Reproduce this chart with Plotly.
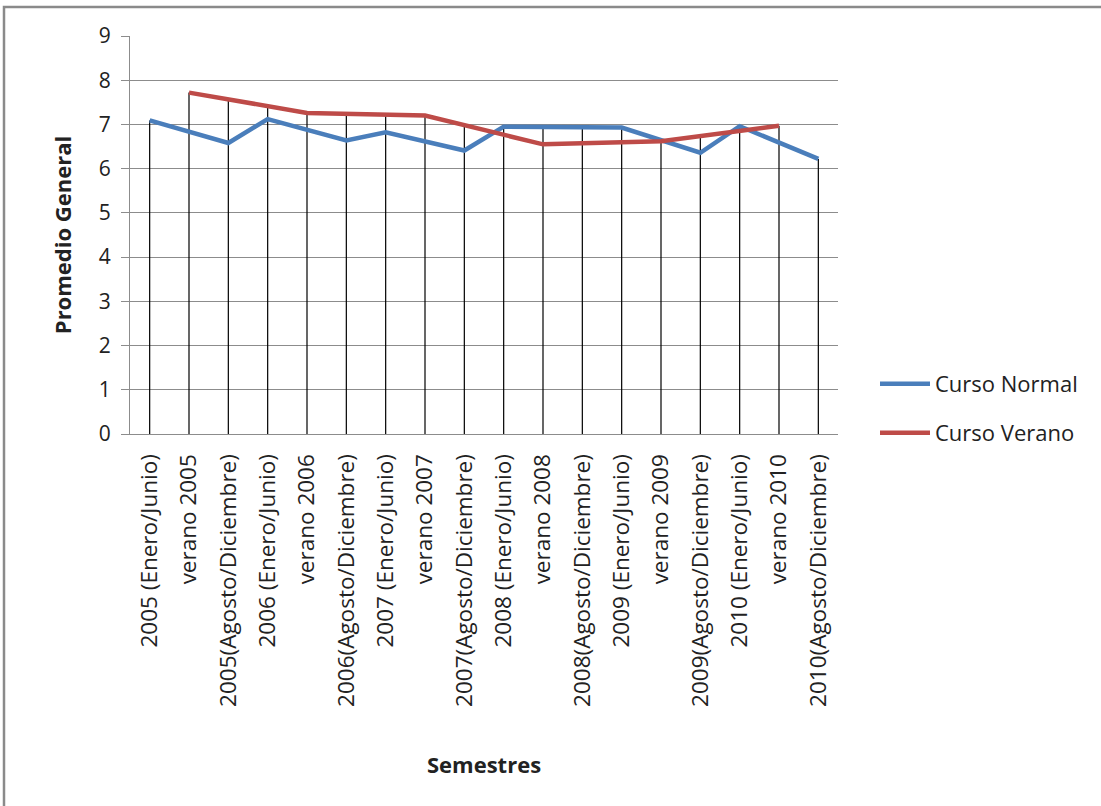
import numpy as np
import plotly.graph_objects as go

# Semesters on the category axis
semestres = [
    "2005 (Enero/Junio)", "verano 2005", "2005(Agosto/Diciembre)",
    "2006 (Enero/Junio)", "verano 2006", "2006(Agosto/Diciembre)",
    "2007 (Enero/Junio)", "verano 2007", "2007(Agosto/Diciembre)",
    "2008 (Enero/Junio)", "verano 2008", "2008(Agosto/Diciembre)",
    "2009 (Enero/Junio)", "verano 2009", "2009(Agosto/Diciembre)",
    "2010 (Enero/Junio)", "verano 2010", "2010(Agosto/Diciembre)",
]

# Regular-course averages (no value in summer slots)
curso_normal = [7.09, None, 6.58, 7.12, None, 6.64, 6.82, None, 6.41,
                6.95, None, 6.95, 6.93, None, 6.36, 6.96, None, 6.22]

# Summer-course averages (only summer slots)
curso_verano = [None, 7.72, None, None, 7.26, None, None, 7.20, None,
                None, 6.55, None, None, 6.62, None, None, 6.97, None]

BLUE = "#4A7EBB"
RED = "#BE4B48"
FONT = "'Open Sans', 'Noto Sans', sans-serif"


def line_height(values):
    """Height of a gap-connected line at every category index."""
    idx = np.arange(len(values))
    known = [(i, v) for i, v in enumerate(values) if v is not None]
    ki = np.array([k[0] for k in known])
    kv = np.array([k[1] for k in known])
    h = np.interp(idx, ki, kv)
    h[(idx < ki.min()) | (idx > ki.max())] = np.nan
    return h


# Drop lines run from the axis up to the highest line at each category
tops = np.fmax(line_height(curso_normal), line_height(curso_verano))
drop_x, drop_y = [], []
for cat, top in zip(semestres, tops):
    drop_x += [cat, cat, None]
    drop_y += [0, float(top), None]

fig = go.Figure()
fig.add_trace(go.Scatter(
    x=drop_x, y=drop_y, mode="lines",
    line=dict(color="black", width=1.2),
    showlegend=False, hoverinfo="skip",
))
fig.add_trace(go.Scatter(
    x=semestres, y=curso_normal, name="Curso Normal", mode="lines",
    connectgaps=True, line=dict(color=BLUE, width=4.5), legend="legend",
))
fig.add_trace(go.Scatter(
    x=semestres, y=curso_verano, name="Curso Verano", mode="lines",
    connectgaps=True, line=dict(color=RED, width=4.5), legend="legend2",
))

W, H = 1101, 806
L, R, T, B = 130, 838, 36, 434
pw, ph = R - L, B - T

legend_style = dict(
    font=dict(family=FONT, size=22, color="#222222"),
    bgcolor="rgba(0,0,0,0)", xanchor="left", yanchor="middle",
    itemwidth=50,
)

fig.update_layout(
    width=W, height=H,
    margin=dict(l=L, r=W - R, t=T, b=H - B),
    paper_bgcolor="white", plot_bgcolor="white",
    font=dict(family=FONT, color="#222222"),
    legend=dict(x=(875 - L) / pw, y=(B - 384) / ph, **legend_style),
    legend2=dict(x=(875 - L) / pw, y=(B - 433) / ph, **legend_style),
    xaxis=dict(
        type="category", categoryorder="array", categoryarray=semestres,
        range=[-0.5, len(semestres) - 0.5],
        tickangle=-90, tickfont=dict(size=22.5),
        showgrid=False, showline=True, linecolor="#8C8C8C", linewidth=1.3,
        ticks="", ticklabelstandoff=10,
        title=dict(text="<b>Semestres</b>", font=dict(size=22), standoff=51),
    ),
    yaxis=dict(
        range=[0, 9], dtick=1, tickfont=dict(size=21),
        showgrid=True, gridcolor="#8C8C8C", gridwidth=1.3,
        showline=True, linecolor="#8C8C8C", linewidth=1.3,
        ticks="outside", ticklen=8, tickcolor="#8C8C8C", tickwidth=1.3,
        zeroline=False, ticklabelstandoff=6,
        title=dict(text="<b>Promedio General</b>", font=dict(size=22), standoff=20),
    ),
    shapes=[dict(
        type="rect", xref="paper", yref="paper",
        x0=(4 - L) / pw, x1=(W + 20 - L) / pw,
        y0=(B - (H + 20)) / ph, y1=(B - 7) / ph,
        line=dict(color="#8A8A8A", width=2.5), fillcolor="rgba(0,0,0,0)",
        layer="below",
    )],
)

fig.write_html("out.html")
